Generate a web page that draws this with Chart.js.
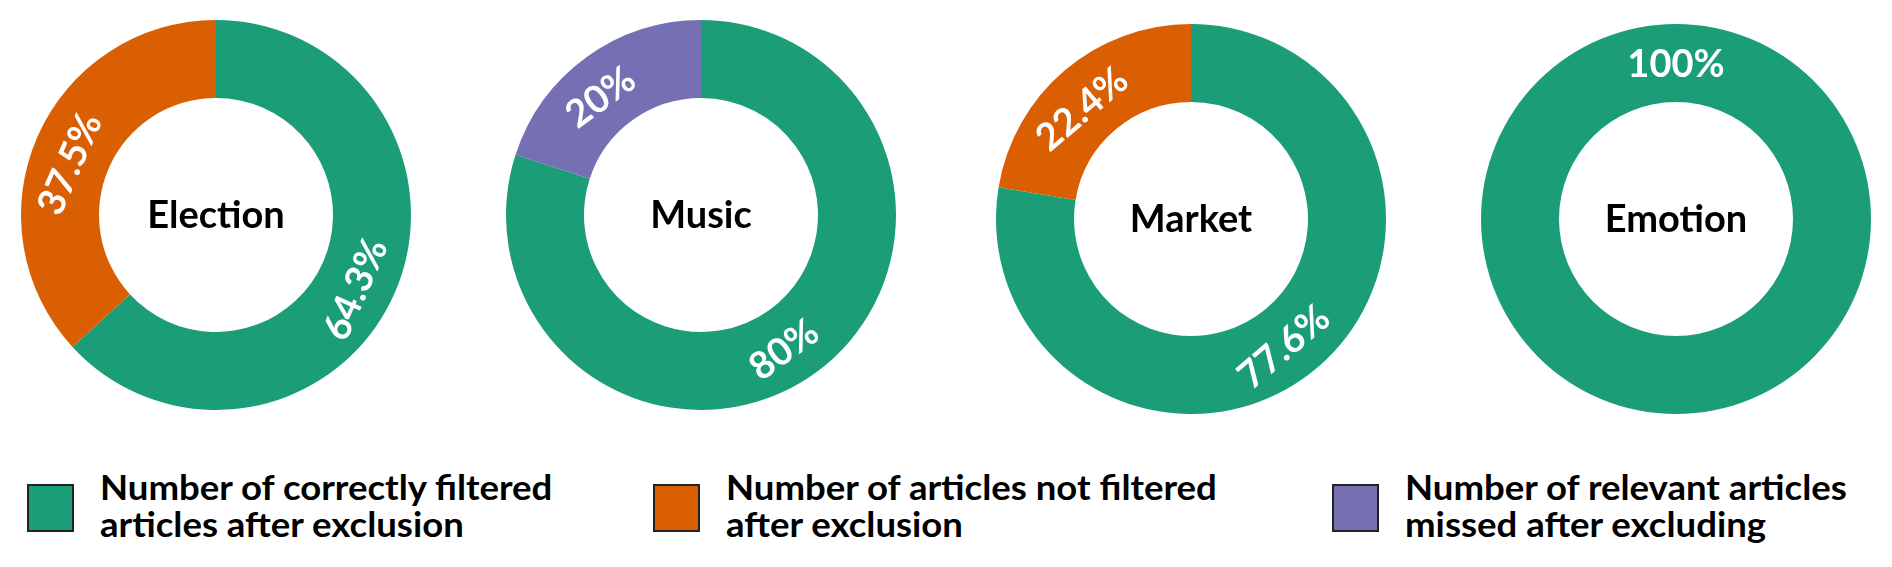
<!DOCTYPE html>
<html>
<head>
<meta charset="utf-8">
<script src="https://cdn.jsdelivr.net/npm/chart.js@4"></script>
<style>
  html, body { margin: 0; padding: 0; background: #fff; }
  body { position: relative; width: 1892px; height: 567px; overflow: hidden; font-family: Lato, "Open Sans", sans-serif; }
  canvas { position: absolute; }
  .legend-item { position: absolute; top: 468px; }
  .legend-box { position: absolute; top: 16px; width: 43px; height: 44px; border: 2px solid #222; }
  .legend-text { position: absolute; left: 73px; top: 0; font-weight: 700; font-size: 34px; line-height: 37px; color: #000; white-space: nowrap; transform: scaleX(1.075); transform-origin: left top; }
</style>
</head>
<body>

<canvas id="c0" width="390" height="390" style="left:21px;top:20px"></canvas>
<canvas id="c1" width="390" height="390" style="left:506px;top:20px"></canvas>
<canvas id="c2" width="390" height="390" style="left:996px;top:24px"></canvas>
<canvas id="c3" width="390" height="390" style="left:1481px;top:24px"></canvas>

<div id="legend"></div>

<script>
// topics, one doughnut each
const categories = ['Election', 'Music', 'Market', 'Emotion'];

// series (percent of articles), null where the slice is absent
const correctlyFiltered = [64.3, 80, 77.6, 100];
const notFiltered = [37.5, null, 22.4, null];
const missedRelevant = [null, 20, null, null];

const seriesNames = [
  ['Number of correctly filtered', 'articles after exclusion'],
  ['Number of articles not filtered', 'after exclusion'],
  ['Number of relevant articles', 'missed after excluding']
];
const seriesColors = ['#1b9e77', '#d95f02', '#7570b3'];

// white percentage labels laid along the ring
const sliceLabels = {
  id: 'sliceLabels',
  afterDatasetsDraw(chart) {
    const ctx = chart.ctx;
    const meta = chart.getDatasetMeta(0);
    const values = chart.data.datasets[0].data;
    ctx.save();
    ctx.fillStyle = '#fff';
    ctx.font = 'bold 38px Lato';
    ctx.textAlign = 'center';
    ctx.textBaseline = 'middle';
    meta.data.forEach((arc, i) => {
      const v = values[i];
      if (v == null || v === 0) return;
      const p = arc.getProps(['x', 'y', 'startAngle', 'endAngle', 'innerRadius', 'outerRadius'], true);
      const r = (p.innerRadius + p.outerRadius) / 2;
      let mid = (p.startAngle + p.endAngle) / 2;
      let rot = mid + Math.PI / 2;
      let shift = -12;
      if (p.endAngle - p.startAngle > 2 * Math.PI - 0.01) {
        // full ring: label sits on top, level
        mid = -Math.PI / 2;
        rot = 0;
        shift = 0;
      } else {
        // keep text readable (never upside down)
        while (rot > Math.PI / 2) rot -= Math.PI;
        while (rot < -Math.PI / 2) rot += Math.PI;
      }
      ctx.save();
      ctx.translate(p.x + r * Math.cos(mid), p.y + r * Math.sin(mid));
      ctx.rotate(rot);
      ctx.fillText(v + '%', shift, 2);
      ctx.restore();
    });
    ctx.restore();
  }
};

// topic name in the hole
const centerText = {
  id: 'centerText',
  afterDraw(chart, args, opts) {
    const ctx = chart.ctx;
    const arc = chart.getDatasetMeta(0).data[0];
    ctx.save();
    ctx.fillStyle = '#000';
    ctx.font = 'bold 38px Lato';
    ctx.textAlign = 'center';
    ctx.textBaseline = 'middle';
    ctx.fillText(opts.text, arc.x, arc.y + 1);
    ctx.restore();
  }
};

categories.forEach((name, i) => {
  const ctx = document.getElementById('c' + i).getContext('2d');
  new Chart(ctx, {
    type: 'doughnut',
    data: {
      labels: seriesNames.map(s => s.join(' ')),
      datasets: [{
        data: [correctlyFiltered[i], notFiltered[i], missedRelevant[i]],
        backgroundColor: seriesColors,
        borderWidth: 0
      }]
    },
    options: {
      responsive: false,
      animation: false,
      cutout: '60%',
      layout: { padding: 0 },
      plugins: {
        legend: { display: false },
        tooltip: { enabled: false },
        centerText: { text: name }
      }
    },
    plugins: [sliceLabels, centerText]
  });
});

// shared legend under the rings
const legendX = [27, 653, 1332];
const legend = document.getElementById('legend');
seriesNames.forEach((lines, i) => {
  const item = document.createElement('div');
  item.className = 'legend-item';
  item.style.left = legendX[i] + 'px';
  const box = document.createElement('div');
  box.className = 'legend-box';
  box.style.background = seriesColors[i];
  const text = document.createElement('div');
  text.className = 'legend-text';
  text.innerHTML = lines.join('<br>');
  item.appendChild(box);
  item.appendChild(text);
  legend.appendChild(item);
});
</script>
</body>
</html>
